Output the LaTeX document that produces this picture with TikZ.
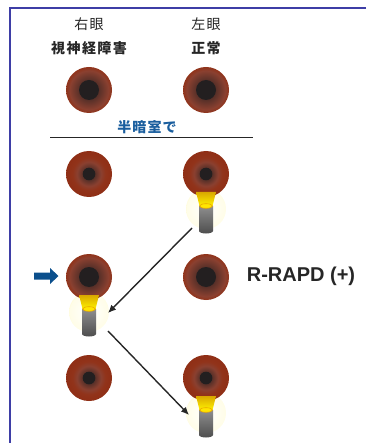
\documentclass[tikz,border=0pt]{standalone}
\usepackage{fontspec}
\setmainfont{Liberation Sans}
\newfontfamily\jp{Noto Sans CJK JP}
\usetikzlibrary{arrows.meta}

\definecolor{framecol}{HTML}{3E3EA6}
\definecolor{textcol}{HTML}{262626}
\definecolor{dimblue}{HTML}{1A5E9E}
\definecolor{markblue}{HTML}{0B4F8C}
\definecolor{pupilcol}{HTML}{231F20}
\definecolor{irisHalo}{HTML}{8A4030}
\definecolor{irisMix}{HTML}{91331A}
\definecolor{irisMid}{HTML}{8E2B12}
\definecolor{irisEdge}{HTML}{66170A}
\definecolor{beamTop}{HTML}{D9A800}
\definecolor{beamBot}{HTML}{FFF200}
\definecolor{capYellow}{HTML}{FFE600}
\definecolor{capRim}{HTML}{E8A400}
\definecolor{bodyTop}{HTML}{8E8E8E}
\definecolor{bodyBot}{HTML}{4E4E4E}
\definecolor{glowA}{HTML}{FFFDE8}
\definecolor{glowB}{HTML}{FFF27A}

% iris shadings: light halo round the pupil, red-brown body, dark rim
\pgfdeclareradialshading{irisbig}{\pgfpoint{0bp}{0bp}}{%
  color(0bp)=(pupilcol); color(21bp)=(irisHalo); color(25bp)=(irisMix);
  color(33bp)=(irisMid); color(50bp)=(irisEdge)}
\pgfdeclareradialshading{irissmall}{\pgfpoint{0bp}{0bp}}{%
  color(0bp)=(pupilcol); color(13bp)=(irisHalo); color(18bp)=(irisMix);
  color(30bp)=(irisMid); color(50bp)=(irisEdge)}
% soft halo round a penlight
\pgfdeclareradialshading{torchglow}{\pgfpoint{0bp}{0bp}}{%
  color(0bp)=(white); color(24bp)=(glowA); color(40bp)=(glowB);
  color(50bp)=(white)}

\tikzset{
  lbl/.style={font=\jp\fontsize{14}{16}\selectfont\addfontfeature{LetterSpace=10},
    text=textcol, inner sep=0pt},
  lblb/.style={lbl, font=\jp\bfseries\fontsize{14}{16}\selectfont\addfontfeature{LetterSpace=10}},
  dimlbl/.style={font=\jp\bfseries\fontsize{14}{16}\selectfont\addfontfeature{LetterSpace=8},
    text=dimblue, inner sep=0pt},
  signlbl/.style={font=\bfseries\fontsize{20}{23}\selectfont, text=textcol, inner sep=0pt},
  rule/.style={draw=textcol, line width=1pt},
  frameline/.style={draw=framecol, line width=2pt},
  swing/.style={draw=textcol, line width=1.4pt, -{Latex[length=8pt,width=7pt]}},
  eyebig/.pic={
    \shade[shading=irisbig] (0,0) circle (23);
    \fill[pupilcol] (0,0) circle (10);
  },
  eyesmall/.pic={
    \shade[shading=irissmall] (0,0) circle (23);
    \fill[pupilcol] (0,0) circle (6.3);
  },
  torchhalo/.pic={
    \shade[shading=torchglow] (0,35) circle (20);
  },
  torch/.pic={
    \shade[top color=beamTop, bottom color=beamBot]
      (-10,18) -- (10,18) -- (6.5,32) -- (-6.5,32) -- cycle;
    \shade[top color=bodyTop, bottom color=bodyBot]
      (-7,32) -- (-7,57) arc[start angle=180, end angle=0, x radius=7, y radius=2.5]
      -- (7,32) -- cycle;
    \fill[capYellow, draw=capRim, line width=0.6pt] (0,32) ellipse (6.5 and 2.3);
  },
}

\begin{document}
\begin{tikzpicture}[x=1pt, y=-1pt]
  \useasboundingbox (0,0) rectangle (366,443);

  % frame (top and left edges)
  \draw[frameline] (366,8.5) -- (9.5,8.5) -- (9.5,443);

  % column headings
  \node[lbl]  (reLbl)  at (89,24)  {右眼};
  \node[lblb] (reCond) at (89,48)  {視神経障害};
  \node[lbl]  (leLbl)  at (206,24) {左眼};
  \node[lblb] (leCond) at (206,48) {正常};

  % eyes in normal light
  \pic at (89,90)  {eyebig};
  \pic at (206,90) {eyebig};

  \node[dimlbl] (dim) at (147,127) {半暗室で};
  \draw[rule] (50,138) -- (253,138);

  % swinging flashlight test
  \pic at (206,174) {torchhalo};
  \pic at (89,174)  {eyesmall};
  \pic at (206,174) {eyesmall};
  \pic at (206,174) {torch};

  \pic at (89,277) {torchhalo};
  \pic at (89,277)  {eyebig};
  \pic at (206,277) {eyebig};
  \pic at (89,277) {torch};

  \pic at (206,378) {torchhalo};
  \pic at (89,378)  {eyesmall};
  \pic at (206,378) {eyesmall};
  \pic at (206,378) {torch};

  \coordinate (swA) at (192,228);
  \coordinate (swB) at (108,313);
  \coordinate (swC) at (108,331);
  \coordinate (swD) at (189,415);
  \draw[swing] (swA) -- (swB);
  \draw[swing] (swC) -- (swD);

  % marker on the affected eye
  \fill[markblue] (34,272.5) -- (50,272.5) -- (50,268) -- (58.5,276)
    -- (50,284) -- (50,279.5) -- (34,279.5) -- cycle;

  \node[signlbl] (rapd) at (301,276) {R-RAPD (+)};
\end{tikzpicture}
\end{document}
